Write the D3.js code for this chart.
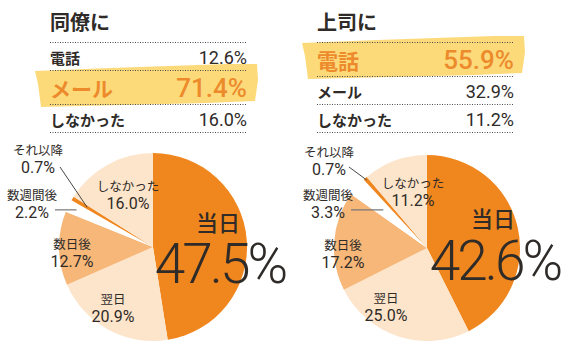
<!DOCTYPE html>
<html>
<head>
<meta charset="utf-8">
<script src="https://cdn.jsdelivr.net/npm/d3@7"></script>
<style>
  body { margin: 0; background: #fff; }
  svg { display: block; }
</style>
</head>
<body>
<div id="chart"></div>
<script>
// data
var panelTitles = ["同僚に", "上司に"];
var methodLabels = ["電話", "メール", "しなかった"];
var colleagueMethod = [12.6, 71.4, 16.0];
var bossMethod = [55.9, 32.9, 11.2];
var timingLabels = ["当日", "翌日", "数日後", "数週間後", "それ以降", "しなかった"];
var colleagueTiming = [47.5, 20.9, 12.7, 2.2, 0.7, 16.0];
var bossTiming = [42.6, 25.0, 17.2, 3.3, 0.7, 11.2];

var width = 568, height = 353;
var orange = "#f0861e", light = "#fde5cb", mid = "#f6b778", ink = "#2f2b28";
var jp = "'Noto Sans CJK JP', sans-serif";
var num = "Roboto, sans-serif";

var sliceColor = d3.scaleOrdinal()
  .domain(timingLabels)
  .range([orange, light, mid, "#ffffff", orange, light]);

var svg = d3.select("#chart")
  .append("svg")
    .attr("width", width)
    .attr("height", height);

// layout of the two panels (label offsets are from the pie centre)
var panels = [
  {title: panelTitles[0], method: colleagueMethod, timing: colleagueTiming,
   x0: 50, x1: 247, cx: 153, cy: 247, r: 94,
   labels: [null, [-40, 60], [-81, 5], [-121, -44], [-115, -89], [-25, -53]],
   big: [[65, -26], [67, 17]],
   pointer: [[-93, -80], 77], guide: [-98, 85]},
  {title: panelTitles[1], method: bossMethod, timing: bossTiming,
   x0: 317, x1: 514, cx: 427, cy: 248, r: 93,
   labels: [null, [-41, 58], [-84, 5], [-99, -45], [-98, -88], [-14, -57]],
   big: [[66, -31], [68, 13]],
   pointer: [[-78, -81], 91], guide: [-76, 58]}
];

panels.forEach(function(p) {
  var g = svg.append("g");

  // title
  g.append("text")
    .attr("x", p.x0)
    .attr("y", 30)
    .style("font-family", jp)
    .style("font-weight", 700)
    .style("font-size", "20px")
    .attr("fill", ink)
    .text(p.title);

  // table rows: the winning row is taller and highlighted
  var top = p.method.indexOf(d3.max(p.method));
  var rowH = p.method.map(function(v, i) { return i == top ? 34 : 28; });
  var edges = [42];
  rowH.forEach(function(h, i) { edges.push(edges[i] + h); });

  var y0 = edges[top], y1 = edges[top + 1];
  var brush = [[p.x0 - 15, y0 + 1], [p.x0 + 60, y0 - 2], [p.x1 - 20, y0 - 6], [p.x1 + 10, y0 - 6],
               [p.x1 + 11, y0 + 10], [p.x1 + 8, y1 - 3], [p.x1 - 40, y1 - 1], [p.x0 - 9, y1 + 3],
               [p.x0 - 12, y0 + 14]];
  g.append("path")
    .attr("d", d3.line().curve(d3.curveLinearClosed)(brush))
    .attr("fill", "#fcd66c")
    .attr("opacity", 0.9);

  g.selectAll(".rule")
    .data(edges)
    .enter()
    .append("line")
      .attr("x1", p.x0)
      .attr("x2", p.x1)
      .attr("y1", function(d) { return d + 0.5; })
      .attr("y2", function(d) { return d + 0.5; })
      .attr("stroke", "#4a4a4a")
      .attr("stroke-width", 1)
      .attr("stroke-dasharray", "1,1.5");

  p.method.forEach(function(v, i) {
    var hi = i == top;
    var cy = (edges[i] + edges[i + 1]) / 2 + 1;
    g.append("text")
      .attr("x", p.x0)
      .attr("y", cy)
      .attr("dominant-baseline", "central")
      .style("font-family", jp)
      .style("font-weight", 700)
      .style("font-size", hi ? "21px" : "15px")
      .attr("fill", hi ? "#ec8a2c" : ink)
      .text(methodLabels[i]);
    g.append("text")
      .attr("x", p.x1)
      .attr("y", cy)
      .attr("text-anchor", "end")
      .attr("dominant-baseline", "central")
      .style("font-family", num)
      .style("font-weight", hi ? 500 : 400)
      .style("font-size", hi ? "26px" : "18px")
      .attr("fill", hi ? "#ec8a2c" : ink)
      .text(v.toFixed(1) + "%");
  });

  // pie
  var slices = d3.pie().sort(null).value(function(d) { return d.v; })(
    p.timing.map(function(v, i) { return {k: timingLabels[i], v: v}; }));
  var arc = d3.arc().innerRadius(0).outerRadius(p.r);
  var pg = g.append("g").attr("transform", "translate(" + p.cx + "," + p.cy + ")");

  pg.selectAll("path")
    .data(slices)
    .enter()
    .append("path")
      .attr("d", arc)
      .attr("fill", function(d) { return sliceColor(d.data.k); });

  // leader lines for the two thin slices
  var at = function(s, rr) { return d3.arc().innerRadius(rr).outerRadius(rr).centroid(s); };
  var tip = at(slices[4], p.pointer[1]);
  pg.append("line")
    .attr("x1", p.pointer[0][0]).attr("y1", p.pointer[0][1])
    .attr("x2", tip[0]).attr("y2", tip[1])
    .attr("stroke", "#333").attr("stroke-width", 0.9);
  var gtip = at(slices[3], p.guide[1]);
  pg.append("line")
    .attr("x1", p.guide[0]).attr("y1", gtip[1])
    .attr("x2", gtip[0]).attr("y2", gtip[1])
    .attr("stroke", "#777").attr("stroke-width", 1.2);

  // slice labels
  slices.forEach(function(s, i) {
    if (i == 0) return;
    var o = p.labels[i];
    pg.append("text")
      .attr("x", o[0]).attr("y", o[1] - 8.5)
      .attr("text-anchor", "middle")
      .attr("dominant-baseline", "central")
      .style("font-family", jp)
      .style("font-size", "12.5px")
      .attr("fill", ink)
      .text(s.data.k);
    pg.append("text")
      .attr("x", o[0]).attr("y", o[1] + 9)
      .attr("text-anchor", "middle")
      .attr("dominant-baseline", "central")
      .style("font-family", num)
      .style("font-size", "16px")
      .attr("fill", ink)
      .text(s.data.v.toFixed(1) + "%");
  });

  // the big one
  pg.append("text")
    .attr("x", p.big[0][0]).attr("y", p.big[0][1])
    .attr("text-anchor", "middle")
    .attr("dominant-baseline", "central")
    .style("font-family", jp)
    .style("font-weight", 500)
    .style("font-size", "22px")
    .attr("fill", ink)
    .text(slices[0].data.k);
  pg.append("text")
    .attr("x", p.big[1][0]).attr("y", p.big[1][1])
    .attr("text-anchor", "middle")
    .attr("dominant-baseline", "central")
    .style("font-family", num)
    .style("font-weight", 300)
    .style("font-size", "55px")
    .style("letter-spacing", "-3px")
    .attr("fill", ink)
    .text(slices[0].data.v.toFixed(1) + "%");
});
</script>
</body>
</html>
